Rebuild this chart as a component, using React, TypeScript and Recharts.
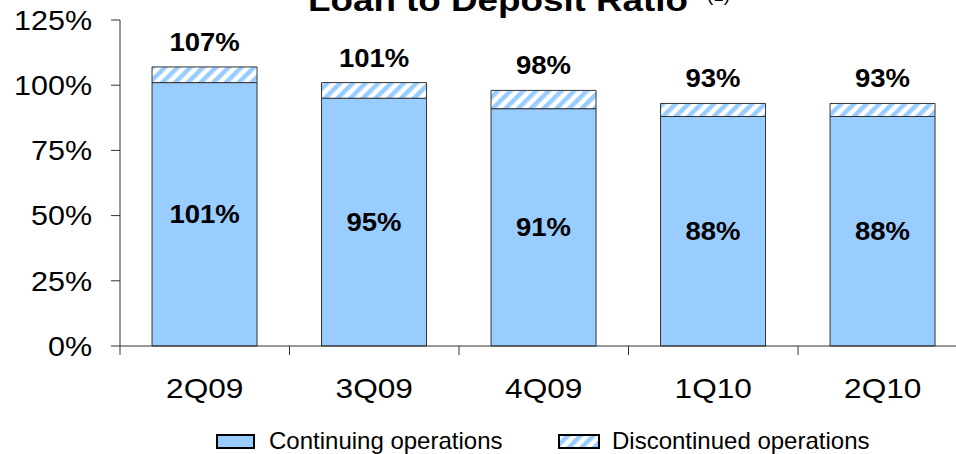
import React from 'react';
import { BarChart, Bar, XAxis, YAxis, LabelList, Legend } from 'recharts';

const categories = ['2Q09', '3Q09', '4Q09', '1Q10', '2Q10'];
const continuing = [101, 95, 91, 88, 88];
const discontinued = [6, 6, 7, 5, 5];
const yTicks = [0, 25, 50, 75, 100, 125];
const seriesNames = ['Continuing operations', 'Discontinued operations'];
const titleText = 'Loan to Deposit Ratio';
const titleNote = '(1)';

const data = categories.map((name, i) => ({
  name,
  continuing: continuing[i],
  discontinued: discontinued[i],
  total: continuing[i] + discontinued[i],
}));

const FONT = '"Liberation Sans", Arial, Helvetica, sans-serif';
const BLUE = '#99CCFF';
const EDGE = '#333333';
const X_TICK_SIZE = 9;
const X_TICK_MARGIN = 20;

const YTick = (props: any) => {
  const { x, y, payload } = props;
  return (
    <text
      transform={`translate(${x},${y}) scale(1.13,1)`}
      x={0}
      y={0}
      dy="0.36em"
      textAnchor="end"
      fontFamily={FONT}
      fontSize={27}
      fill="#000"
    >
      {payload.value}%
    </text>
  );
};

const XTick = (props: any) => {
  const { x, y, payload, index, visibleTicksCount } = props;
  const axisY = y - X_TICK_SIZE - X_TICK_MARGIN;
  const half = payload && typeof payload.offset === 'number' ? payload.offset : 0;
  const isLast = index === (visibleTicksCount ?? categories.length) - 1;
  return (
    <g>
      <line x1={x - half} x2={x - half} y1={axisY} y2={axisY + X_TICK_SIZE} stroke={EDGE} strokeWidth={1} />
      {isLast && (
        <line x1={x + half} x2={x + half} y1={axisY} y2={axisY + X_TICK_SIZE} stroke={EDGE} strokeWidth={1} />
      )}
      <text
        transform={`translate(${x},${axisY + 52}) scale(1.13,1)`}
        x={0}
        y={0}
        textAnchor="middle"
        fontFamily={FONT}
        fontSize={28}
        fill="#000"
      >
        {payload.value}
      </text>
    </g>
  );
};

const InsideLabel = (props: any) => {
  const { x, y, width, height, value } = props;
  return (
    <text
      transform={`translate(${x + width / 2},${y + height / 2}) scale(1.1,1)`}
      x={0}
      y={0}
      dy="0.36em"
      textAnchor="middle"
      fontFamily={FONT}
      fontWeight="bold"
      fontSize={25}
      fill="#000"
    >
      {value}%
    </text>
  );
};

const TopLabel = (props: any) => {
  const { x, y, width, value } = props;
  return (
    <text
      transform={`translate(${x + width / 2},${y - 25}) scale(1.1,1)`}
      x={0}
      y={0}
      dy="0.36em"
      textAnchor="middle"
      fontFamily={FONT}
      fontWeight="bold"
      fontSize={25}
      fill="#000"
    >
      {value}%
    </text>
  );
};

const renderLegend = () => (
  <svg width={956} height={39} style={{ display: 'block', overflow: 'visible' }}>
    <defs>
      <pattern id="hatchLegend" patternUnits="userSpaceOnUse" width={9} height={9} patternTransform="rotate(45)">
        <rect x={0} y={0} width={9} height={9} fill="#ffffff" />
        <rect x={0} y={0} width={4.5} height={9} fill={BLUE} />
      </pattern>
    </defs>
    <rect x={217} y={20} width={37} height={13} fill={BLUE} stroke="#000" strokeWidth={2} />
    <text x={269} y={34} fontFamily={FONT} fontSize={24} fill="#000">
      {seriesNames[0]}
    </text>
    <rect x={559} y={20} width={40} height={13} fill="url(#hatchLegend)" stroke="#000" strokeWidth={2} />
    <text x={612} y={34} fontFamily={FONT} fontSize={24} fill="#000">
      {seriesNames[1]}
    </text>
  </svg>
);

export default function App() {
  return (
    <div
      style={{
        position: 'absolute',
        left: 0,
        top: 0,
        width: 956,
        height: 454,
        overflow: 'hidden',
        background: '#ffffff',
      }}
    >
      <BarChart
        width={980}
        height={454}
        data={data}
        margin={{ top: 20, right: 12.5, left: 20, bottom: 48 }}
        barCategoryGap="18.9%"
      >
        <defs>
          <pattern id="hatch" patternUnits="userSpaceOnUse" width={9} height={9} patternTransform="rotate(45)">
            <rect x={0} y={0} width={9} height={9} fill="#ffffff" />
            <rect x={0} y={0} width={4.5} height={9} fill={BLUE} />
          </pattern>
        </defs>
        <Legend
          verticalAlign="top"
          content={renderLegend}
          wrapperStyle={{ left: 0, top: 415, width: 956, height: 0, overflow: 'visible' }}
        />
        <XAxis
          dataKey="name"
          height={60}
          tickLine={false}
          tickSize={X_TICK_SIZE}
          tickMargin={X_TICK_MARGIN}
          axisLine={{ stroke: EDGE, strokeWidth: 1 }}
          tick={<XTick />}
          interval={0}
        />
        <YAxis
          width={100}
          domain={[0, 125]}
          ticks={yTicks}
          interval={0}
          tickSize={9}
          tickMargin={19}
          axisLine={{ stroke: EDGE, strokeWidth: 1 }}
          tickLine={{ stroke: EDGE, strokeWidth: 1 }}
          tick={<YTick />}
        />
        <Bar
          dataKey="continuing"
          name={seriesNames[0]}
          stackId="a"
          fill={BLUE}
          stroke={EDGE}
          strokeWidth={1}
          isAnimationActive={false}
        >
          <LabelList dataKey="continuing" content={InsideLabel} />
        </Bar>
        <Bar
          dataKey="discontinued"
          name={seriesNames[1]}
          stackId="a"
          fill="url(#hatch)"
          stroke={EDGE}
          strokeWidth={1}
          isAnimationActive={false}
        >
          <LabelList dataKey="total" content={TopLabel} />
        </Bar>
      </BarChart>
      <svg
        width={956}
        height={40}
        style={{ position: 'absolute', left: 0, top: 0, pointerEvents: 'none', overflow: 'visible' }}
      >
        <text
          x={308}
          y={10.5}
          fontFamily={FONT}
          fontWeight="bold"
          fontSize={31}
          textLength={380}
          lengthAdjust="spacingAndGlyphs"
          fill="#000"
        >
          {titleText}
        </text>
        <text
          x={707}
          y={1}
          fontFamily={FONT}
          fontSize={19}
          textLength={23}
          lengthAdjust="spacingAndGlyphs"
          fill="#000"
        >
          {titleNote}
        </text>
      </svg>
    </div>
  );
}
